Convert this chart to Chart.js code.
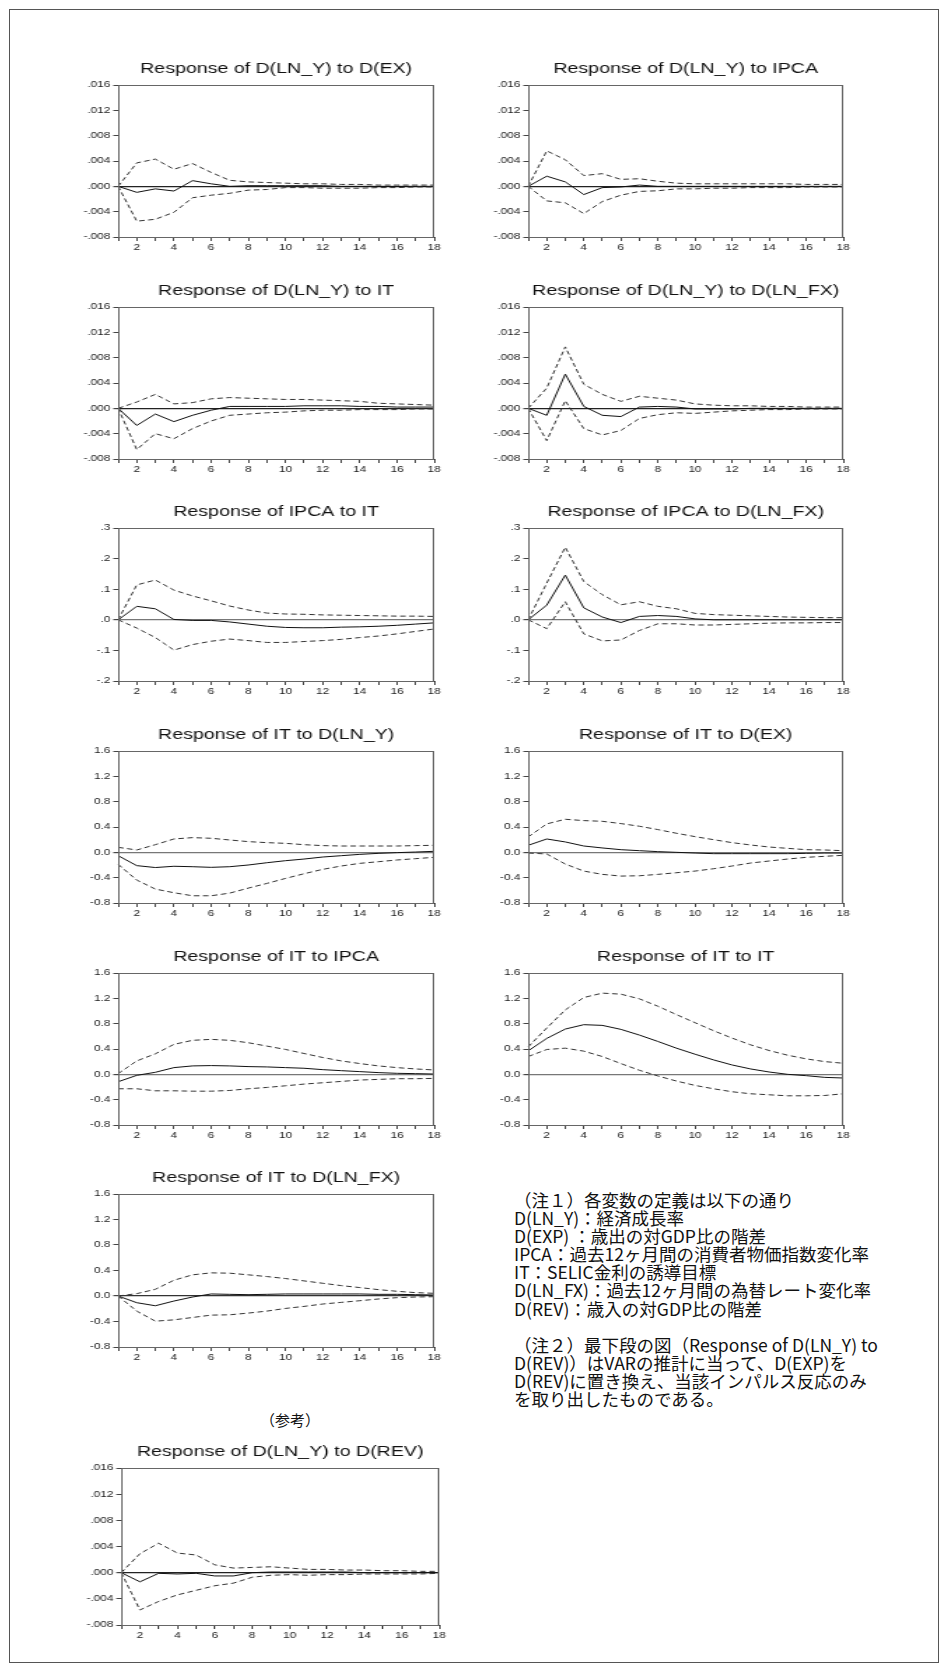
<!DOCTYPE html>
<html><head><meta charset="utf-8">
<script src="https://cdn.jsdelivr.net/npm/chart.js@4.4.1/dist/chart.umd.min.js"></script>
<style>
html,body{margin:0;padding:0;background:#fff;}
body{width:948px;height:1672px;position:relative;overflow:hidden;}
#frame{position:absolute;left:9px;top:9px;width:930px;height:1654px;border:1px solid #555;box-sizing:border-box;}
.box{position:absolute;transform-origin:0 0;}
.box canvas{display:block;}
#sanko{position:absolute;left:240px;top:1410px;width:100px;text-align:center;font-family:"Noto Sans CJK JP";font-size:15px;line-height:20px;color:#111;}
#notes{position:absolute;left:514px;top:1191px;font-family:"Noto Sans CJK JP";font-size:17.5px;line-height:18.1px;color:#111;white-space:pre;}
</style></head><body>
<div id="frame"></div>
<div id="sanko">（参考）</div>
<div id="notes">（注１）各変数の定義は以下の通り
D(LN_Y)：経済成長率
D(EXP) ：歳出の対GDP比の階差
IPCA：過去12ヶ月間の消費者物価指数変化率
IT：SELIC金利の誘導目標
D(LN_FX)：過去12ヶ月間の為替レート変化率
D(REV)：歳入の対GDP比の階差

（注２）最下段の図（Response of D(LN_Y) to
D(REV)）はVARの推計に当って、D(EXP)を
D(REV)に置き換え、当該インパルス反応のみ
を取り出したものである。</div>
<script>
// ---------- categories & tick labels ----------
const periods = ['1','2','3','4','5','6','7','8','9','10','11','12','13','14','15','16','17','18'];
const xTickLabels = ['','2','','4','','6','','8','','10','','12','','14','','16','','18'];
const yTicksLNY = ['-.008','-.004','.000','.004','.008','.012','.016'];
const yTicksIPCA = ['-.2','-.1','.0','.1','.2','.3'];
const yTicksIT = ['-0.8','-0.4','0.0','0.4','0.8','1.2','1.6'];

// ---------- series ----------
const lnyEx_resp  = [0,-0.00095,-0.0004,-0.00074,0.0009,0.0004,0,0.0001,0.0001,0.0001,0.0001,0.0001,0,0,0,0,0,0];
const lnyEx_upper = [0,0.0037,0.0043,0.0027,0.0036,0.0022,0.00095,0.0007,0.0006,0.0005,0.0004,0.0004,0.0003,0.0003,0.0002,0.0002,0.0002,0.0002];
const lnyEx_lower = [0,-0.0055,-0.0052,-0.0041,-0.0018,-0.0014,-0.0011,-0.0006,-0.0005,-0.0002,-0.0002,-0.0003,-0.0003,-0.0003,-0.0002,-0.0002,-0.0001,-0.0001];

const lnyIpca_resp  = [0,0.0016,0.0007,-0.0013,-0.0002,-0.0001,0.0002,0,0,0,0,0,0,0,0,0,0,0];
const lnyIpca_upper = [0,0.0056,0.0042,0.0017,0.0020,0.0011,0.0012,0.0008,0.0005,0.0004,0.0004,0.0004,0.0004,0.0004,0.0004,0.0003,0.0003,0.0003];
const lnyIpca_lower = [0,-0.0023,-0.0026,-0.0043,-0.0024,-0.0014,-0.0008,-0.0007,-0.0004,-0.0004,-0.0003,-0.0003,-0.0002,-0.0002,-0.0002,-0.0001,-0.0001,-0.0001];

const lnyIt_resp  = [0,-0.0027,-0.0009,-0.0021,-0.0011,-0.0003,0.0003,0.0003,0.0003,0.0003,0.0004,0.0004,0.0004,0.0003,0.0003,0.0002,0.0002,0.0002];
const lnyIt_upper = [0,0.001,0.0022,0.0007,0.0009,0.0015,0.0017,0.0016,0.0015,0.0014,0.0014,0.0013,0.0012,0.0011,0.0008,0.0007,0.0006,0.0005];
const lnyIt_lower = [0,-0.0065,-0.004,-0.0048,-0.0032,-0.002,-0.0011,-0.0009,-0.0007,-0.0006,-0.0004,-0.0003,-0.0003,-0.0002,-0.0002,-0.0002,-0.0001,-0.0001];

const lnyFx_resp  = [0,-0.0011,0.0054,0.0003,-0.0011,-0.0013,0.0002,0.0003,0.0002,-0.0001,-0.0001,-0.0001,0,0,0,0,0,0];
const lnyFx_upper = [0,0.0032,0.0097,0.0038,0.0022,0.0011,0.0019,0.0016,0.0013,0.0007,0.0005,0.0004,0.0004,0.0003,0.0003,0.0002,0.0002,0.0002];
const lnyFx_lower = [0,-0.0051,0.0012,-0.0032,-0.0042,-0.0035,-0.0016,-0.001,-0.0007,-0.0008,-0.0006,-0.0004,-0.0003,-0.0002,-0.0002,-0.0001,-0.0001,-0.0001];

const ipcaIt_resp  = [0,0.044,0.036,0.001,-0.002,-0.002,-0.007,-0.014,-0.021,-0.025,-0.026,-0.026,-0.024,-0.023,-0.021,-0.018,-0.014,-0.01];
const ipcaIt_upper = [0,0.114,0.13,0.097,0.078,0.062,0.045,0.032,0.022,0.019,0.018,0.016,0.015,0.014,0.013,0.012,0.012,0.011];
const ipcaIt_lower = [0,-0.027,-0.058,-0.099,-0.081,-0.07,-0.063,-0.068,-0.074,-0.074,-0.071,-0.068,-0.064,-0.058,-0.053,-0.046,-0.038,-0.03];

const ipcaFx_resp  = [0,0.048,0.146,0.039,0.009,-0.009,0.011,0.014,0.011,0.003,0,0,0,0,0,0,0,0];
const ipcaFx_upper = [0,0.12,0.237,0.125,0.082,0.049,0.059,0.044,0.036,0.021,0.017,0.015,0.013,0.011,0.009,0.008,0.007,0.007];
const ipcaFx_lower = [0,-0.029,0.059,-0.046,-0.069,-0.066,-0.035,-0.013,-0.013,-0.017,-0.017,-0.015,-0.013,-0.011,-0.01,-0.01,-0.009,-0.009];

const itLny_resp  = [-0.053,-0.21,-0.24,-0.22,-0.227,-0.237,-0.227,-0.2,-0.164,-0.132,-0.106,-0.074,-0.053,-0.032,-0.016,-0.005,0.005,0.016];
const itLny_upper = [0.079,0.037,0.121,0.211,0.232,0.222,0.195,0.169,0.153,0.142,0.121,0.106,0.1,0.1,0.1,0.1,0.106,0.111];
const itLny_lower = [-0.19,-0.438,-0.58,-0.638,-0.686,-0.686,-0.644,-0.565,-0.491,-0.412,-0.338,-0.269,-0.216,-0.174,-0.148,-0.121,-0.1,-0.079];

const itEx_resp  = [0.111,0.211,0.164,0.1,0.069,0.042,0.026,0.011,0,-0.011,-0.021,-0.021,-0.021,-0.021,-0.021,-0.016,-0.011,-0.011];
const itEx_upper = [0.243,0.449,0.522,0.501,0.49,0.454,0.412,0.359,0.301,0.248,0.2,0.153,0.116,0.084,0.063,0.042,0.037,0.026];
const itEx_lower = [-0.011,-0.026,-0.185,-0.296,-0.348,-0.375,-0.37,-0.348,-0.322,-0.296,-0.259,-0.216,-0.169,-0.137,-0.106,-0.079,-0.063,-0.047];

const itIpca_resp  = [-0.117,-0.016,0.032,0.106,0.133,0.138,0.133,0.122,0.117,0.106,0.096,0.074,0.058,0.043,0.027,0.016,0.011,0.005];
const itIpca_upper = [0.011,0.212,0.324,0.473,0.537,0.552,0.537,0.499,0.446,0.393,0.329,0.266,0.212,0.17,0.133,0.106,0.085,0.069];
const itIpca_lower = [-0.228,-0.228,-0.26,-0.26,-0.266,-0.266,-0.255,-0.228,-0.207,-0.181,-0.154,-0.133,-0.112,-0.09,-0.08,-0.069,-0.069,-0.064];

const itIt_resp  = [0.371,0.567,0.715,0.784,0.773,0.71,0.62,0.519,0.413,0.318,0.228,0.148,0.085,0.037,0,-0.021,-0.048,-0.058];
const itIt_upper = [0.434,0.731,1.017,1.213,1.282,1.266,1.192,1.075,0.943,0.816,0.689,0.572,0.466,0.376,0.302,0.244,0.201,0.175];
const itIt_lower = [0.281,0.392,0.413,0.366,0.281,0.17,0.064,-0.026,-0.106,-0.175,-0.228,-0.275,-0.307,-0.323,-0.339,-0.339,-0.334,-0.307];

const itFx_resp  = [0,-0.105,-0.153,-0.079,-0.016,0.032,0.026,0.021,0.026,0.032,0.032,0.032,0.032,0.032,0.026,0.026,0.021,0.016];
const itFx_upper = [0,0.037,0.105,0.247,0.332,0.363,0.358,0.332,0.305,0.274,0.237,0.2,0.163,0.132,0.1,0.074,0.053,0.042];
const itFx_lower = [0,-0.237,-0.395,-0.374,-0.337,-0.3,-0.295,-0.268,-0.237,-0.195,-0.163,-0.126,-0.1,-0.074,-0.047,-0.026,-0.016,-0.011];

const lnyRev_resp  = [0,-0.0014,-0.0001,-0.0002,-0.0001,-0.0005,-0.0005,0,0.0001,0.0001,0.0001,0.0001,0.0001,0,0,0,0,0];
const lnyRev_upper = [0,0.0029,0.0045,0.003,0.0027,0.0012,0.0007,0.0008,0.0009,0.0007,0.0005,0.0005,0.0004,0.0004,0.0003,0.0003,0.0002,0.0002];
const lnyRev_lower = [0,-0.0057,-0.0044,-0.0034,-0.0027,-0.002,-0.0016,-0.0007,-0.0004,-0.0003,-0.0004,-0.0003,-0.0003,-0.0002,-0.0002,-0.0002,-0.0002,-0.0001];

// ---------- layout (containers only) ----------
const Y_AXIS_W = 28, PAD_R = 10, TITLE_H = 24, X_AXIS_H = 18, TARGET_S = 1.4;
const panels = [
  {title:'Response of D(LN_Y) to D(EX)', r:lnyEx_resp, u:lnyEx_upper, l:lnyEx_lower, yt:yTicksLNY, min:-0.008, max:0.016, step:0.004, x:118, y:85, w:316, h:152, zc:'#222'},
  {title:'Response of D(LN_Y) to IPCA', r:lnyIpca_resp, u:lnyIpca_upper, l:lnyIpca_lower, yt:yTicksLNY, min:-0.008, max:0.016, step:0.004, x:528, y:85, w:315, h:152, zc:'#222'},
  {title:'Response of D(LN_Y) to IT', r:lnyIt_resp, u:lnyIt_upper, l:lnyIt_lower, yt:yTicksLNY, min:-0.008, max:0.016, step:0.004, x:118, y:307, w:316, h:152, zc:'#222'},
  {title:'Response of D(LN_Y) to D(LN_FX)', r:lnyFx_resp, u:lnyFx_upper, l:lnyFx_lower, yt:yTicksLNY, min:-0.008, max:0.016, step:0.004, x:528, y:307, w:315, h:152, zc:'#222'},
  {title:'Response of IPCA to IT', r:ipcaIt_resp, u:ipcaIt_upper, l:ipcaIt_lower, yt:yTicksIPCA, min:-0.2, max:0.3, step:0.1, x:118, y:528, w:316, h:153, zc:'#777'},
  {title:'Response of IPCA to D(LN_FX)', r:ipcaFx_resp, u:ipcaFx_upper, l:ipcaFx_lower, yt:yTicksIPCA, min:-0.2, max:0.3, step:0.1, x:528, y:528, w:315, h:153, zc:'#777'},
  {title:'Response of IT to D(LN_Y)', r:itLny_resp, u:itLny_upper, l:itLny_lower, yt:yTicksIT, min:-0.8, max:1.6, step:0.4, x:118, y:751, w:316, h:152, zc:'#777'},
  {title:'Response of IT to D(EX)', r:itEx_resp, u:itEx_upper, l:itEx_lower, yt:yTicksIT, min:-0.8, max:1.6, step:0.4, x:528, y:751, w:315, h:152, zc:'#777'},
  {title:'Response of IT to IPCA', r:itIpca_resp, u:itIpca_upper, l:itIpca_lower, yt:yTicksIT, min:-0.8, max:1.6, step:0.4, x:118, y:973, w:316, h:152, zc:'#777'},
  {title:'Response of IT to IT', r:itIt_resp, u:itIt_upper, l:itIt_lower, yt:yTicksIT, min:-0.8, max:1.6, step:0.4, x:528, y:973, w:315, h:152, zc:'#777'},
  {title:'Response of IT to D(LN_FX)', r:itFx_resp, u:itFx_upper, l:itFx_lower, yt:yTicksIT, min:-0.8, max:1.6, step:0.4, x:118, y:1194, w:316, h:153, zc:'#333'},
  {title:'Response of D(LN_Y) to D(REV)', r:lnyRev_resp, u:lnyRev_upper, l:lnyRev_lower, yt:yTicksLNY, min:-0.008, max:0.016, step:0.004, x:121, y:1468, w:318, h:157, zc:'#222'}
];

Chart.defaults.font.family = '"Liberation Sans", Arial, sans-serif';
Chart.defaults.color = '#222';

const framePlugin = {
  id: 'frame',
  afterDatasetsDraw(chart) {
    const a = chart.chartArea, c = chart.ctx;
    c.save();
    c.strokeStyle = '#666';
    c.lineWidth = 1;
    c.strokeRect(Math.round(a.left) + 0.5, Math.round(a.top) + 0.5, Math.round(a.right - a.left) - 1, Math.round(a.bottom - a.top));
    c.restore();
  }
};

panels.forEach(p => {
  const wi = Math.round(p.w / TARGET_S);
  const s = p.w / wi;
  const div = document.createElement('div');
  div.className = 'box';
  div.style.left = (p.x - Y_AXIS_W * s) + 'px';
  div.style.top = (p.y - TITLE_H) + 'px';
  div.style.transform = 'scaleX(' + s + ')';
  const cv = document.createElement('canvas');
  cv.width = Y_AXIS_W + wi + PAD_R;
  cv.height = TITLE_H + p.h + X_AXIS_H;
  div.appendChild(cv);
  document.body.appendChild(div);

  const lineDs = (data, dashed) => ({
    data, borderColor: dashed ? '#333' : '#111', borderWidth: 1,
    borderDash: dashed ? [4, 2.5] : [], pointRadius: 0, tension: 0, fill: false
  });

  new Chart(cv, {
    type: 'line',
    data: { labels: periods, datasets: [lineDs(p.u, true), lineDs(p.l, true), lineDs(p.r, false)] },
    options: {
      responsive: false, animation: false, devicePixelRatio: 1,
      layout: { padding: { left: 0, right: PAD_R, top: 0, bottom: 0 } },
      plugins: {
        legend: { display: false }, tooltip: { enabled: false },
        title: { display: true, text: p.title, fullSize: false, color: '#111',
                 font: { size: 14, weight: 'normal', lineHeight: '16px' }, padding: { top: 0, bottom: 8 } }
      },
      scales: {
        x: {
          type: 'category', offset: false,
          grid: { drawOnChartArea: false, drawTicks: true, tickLength: 4, tickColor: '#444' },
          border: { display: true, color: '#333', width: 1 },
          ticks: { autoSkip: false, maxRotation: 0, minRotation: 0, padding: 2, color: '#222',
                   font: { size: 8.5 }, callback: (v, i) => xTickLabels[i] },
          afterFit: sc => { sc.height = X_AXIS_H; }
        },
        y: {
          min: p.min, max: p.max,
          grid: { drawOnChartArea: true, drawTicks: true, tickLength: 3.5, tickColor: '#444',
                  color: ctx => (ctx.tick && Math.abs(ctx.tick.value) < p.step / 100) ? p.zc : 'rgba(0,0,0,0)',
                  lineWidth: ctx => (ctx.tick && Math.abs(ctx.tick.value) < p.step / 100) ? 1.2 : 1 },
          border: { display: true, color: '#333', width: 1 },
          ticks: { stepSize: p.step, padding: 2, color: '#222', font: { size: 8.5 },
                   callback: v => { const f = p.yt.find(t => Math.abs(parseFloat(t) - v) < p.step / 10); return f === undefined ? '' : f; } },
          afterFit: sc => { sc.width = Y_AXIS_W; }
        }
      }
    },
    plugins: [framePlugin]
  });
});
</script>
</body></html>
